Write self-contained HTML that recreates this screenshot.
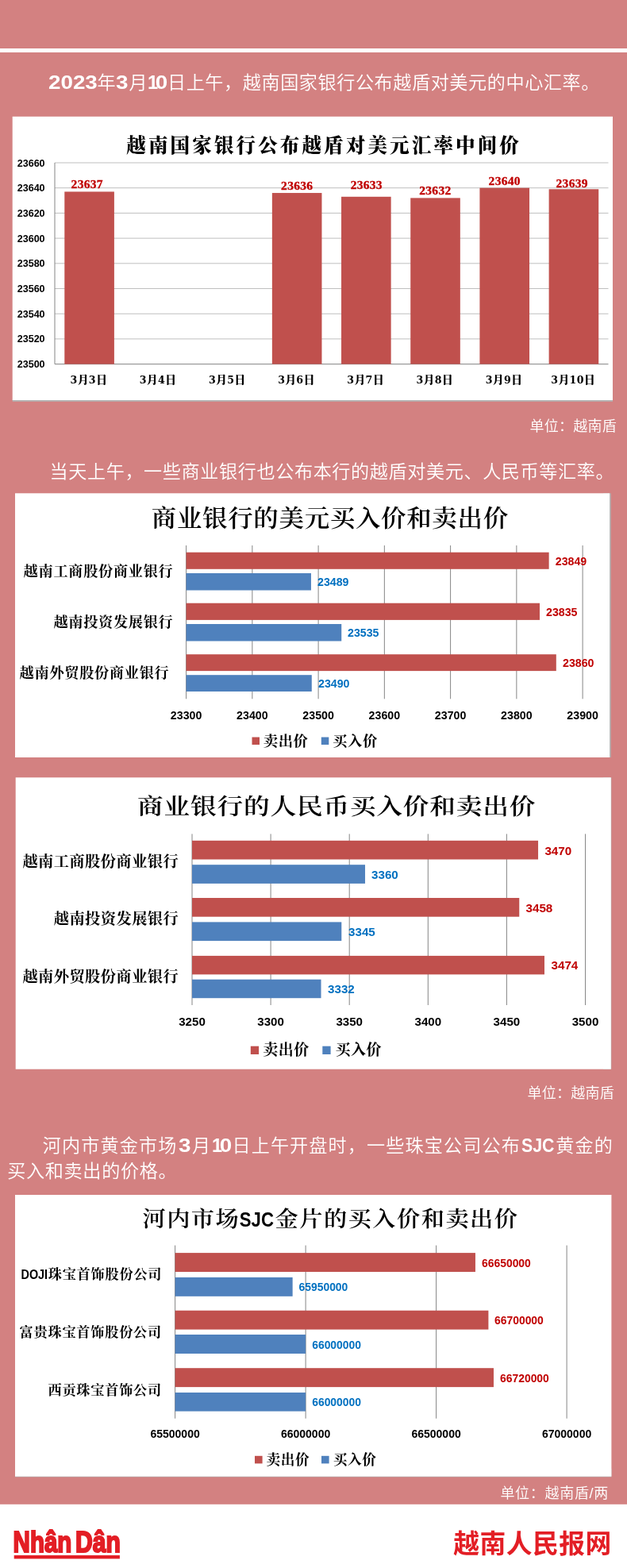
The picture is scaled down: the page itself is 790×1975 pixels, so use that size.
<!DOCTYPE html>
<html lang="zh-CN">
<head>
<meta charset="utf-8">
<title>越南国家银行公布越盾对美元汇率中间价</title>
<style>
html,body{margin:0;padding:0}
body{width:790px;height:1975px;position:relative;overflow:hidden;background:#d38181;font-family:"Liberation Sans","Noto Sans CJK SC",sans-serif}
.rule{position:absolute;left:0;top:61px;width:790px;height:5px;background:#fff}
p{margin:0;position:absolute;color:#fff;white-space:nowrap;font-weight:350;font-size:23.1px;line-height:32.5px;letter-spacing:.6px}
p b{display:inline-block;font-weight:700;font-size:24.8px;letter-spacing:0;transform:scaleX(1.12);transform-origin:0 50%;line-height:1}
p b.l{font-size:23.4px;transform:scaleX(.912)}
p b i{display:inline-block;font-style:normal;transform:scaleX(.85);transform-origin:0 50%;margin-right:-5.2px}
.unit{position:absolute;color:#fff;font-size:18px;line-height:22px;letter-spacing:.25px;white-space:nowrap;font-weight:350}
.chart{position:absolute;margin:0;overflow:hidden}
.chart svg{display:block}
text{font-family:"Liberation Sans","Noto Sans CJK SC",sans-serif}
.ttl{font-family:"Liberation Serif","Noto Serif CJK SC",serif;font-weight:600;fill:#000}
.t4{font-weight:600}
.ttl1{font-family:"Liberation Serif","Noto Serif CJK SC",serif;font-weight:900;fill:#000}
.cat{font-family:"Liberation Serif","Noto Serif CJK SC",serif;fill:#000}
.num{font-family:"Liberation Sans",sans-serif;font-weight:700}
.dl1{font-family:"Liberation Serif",serif;font-weight:700;fill:#c00000;stroke:#c00000;stroke-width:.35px}
.xl1{font-family:"Liberation Serif","Noto Serif CJK SC",serif;font-weight:900;fill:#000;letter-spacing:.1px}
.xd{font-family:"DejaVu Serif","Liberation Serif",serif;font-weight:700;font-size:12.6px;letter-spacing:.35px}
footer{position:absolute;left:0;top:1894px;width:790px;height:80px;background:#fff;border-top:1px solid #dc9a9a}
.logo{position:absolute;left:0;top:0}
.site{position:absolute;right:19.2px;top:27.7px;color:#e31e25;font-weight:700;font-size:32.8px;line-height:44px;letter-spacing:.45px;white-space:nowrap}
</style>
</head>
<body>
<div class="rule"></div>
<p style="left:61.2px;top:88px"><b style="width:61.2px">2023</b>年<b style="width:16.3px">3</b>月<b style="width:24.9px"><i>1</i>0</b>日上午，越南国家银行公布越盾对美元的中心汇率。</p>
<figure class="chart" style="left:15px;top:146px;width:759px;height:360px">
<svg width="759" height="360" viewBox="15 146 759 360">
<rect x="15.7" y="503" width="756.3" height="2.8" fill="#b3b3b3"/>
<rect x="15.7" y="146.8" width="756.3" height="357.2" fill="#fff"/>
<text class="ttl1" x="159.3" y="192.3" font-size="24.5" letter-spacing="3.15">越南国家银行公布越盾对美元汇率中间价</text>
<rect x="69" y="204.5" width="697.5" height="1" fill="#bfbfbf"/>
<text class="num" x="56.6" y="209.5" font-size="12.55" text-anchor="end">23660</text>
<rect x="69" y="236.2" width="697.5" height="1" fill="#bfbfbf"/>
<text class="num" x="56.6" y="241.2" font-size="12.55" text-anchor="end">23640</text>
<rect x="69" y="267.9" width="697.5" height="1" fill="#bfbfbf"/>
<text class="num" x="56.6" y="272.9" font-size="12.55" text-anchor="end">23620</text>
<rect x="69" y="299.6" width="697.5" height="1" fill="#bfbfbf"/>
<text class="num" x="56.6" y="304.6" font-size="12.55" text-anchor="end">23600</text>
<rect x="69" y="331.3" width="697.5" height="1" fill="#bfbfbf"/>
<text class="num" x="56.6" y="336.3" font-size="12.55" text-anchor="end">23580</text>
<rect x="69" y="363" width="697.5" height="1" fill="#bfbfbf"/>
<text class="num" x="56.6" y="368" font-size="12.55" text-anchor="end">23560</text>
<rect x="69" y="394.7" width="697.5" height="1" fill="#bfbfbf"/>
<text class="num" x="56.6" y="399.7" font-size="12.55" text-anchor="end">23540</text>
<rect x="69" y="426.4" width="697.5" height="1" fill="#bfbfbf"/>
<text class="num" x="56.6" y="431.4" font-size="12.55" text-anchor="end">23520</text>
<rect x="69" y="458.1" width="697.5" height="1" fill="#868686"/>
<text class="num" x="56.6" y="463.1" font-size="12.55" text-anchor="end">23500</text>
<rect x="68.5" y="205" width="1" height="253.6" fill="#868686"/>
<rect x="81.29" y="241.45" width="62.6" height="217.15" fill="#c0504d"/>
<text class="dl1" x="109.74" y="237.3" font-size="15.5" letter-spacing=".3" text-anchor="middle">23637</text>
<text class="xl1" x="111.79" y="483.2" font-size="14" text-anchor="middle"><tspan class="xd">3</tspan>月<tspan class="xd">3</tspan>日</text>
<text class="xl1" x="198.98" y="483.2" font-size="14" text-anchor="middle"><tspan class="xd">3</tspan>月<tspan class="xd">4</tspan>日</text>
<text class="xl1" x="286.17" y="483.2" font-size="14" text-anchor="middle"><tspan class="xd">3</tspan>月<tspan class="xd">5</tspan>日</text>
<rect x="342.86" y="243.04" width="62.6" height="215.56" fill="#c0504d"/>
<text class="dl1" x="374.21" y="239.1" font-size="15.5" letter-spacing=".3" text-anchor="middle">23636</text>
<text class="xl1" x="373.36" y="483.2" font-size="14" text-anchor="middle"><tspan class="xd">3</tspan>月<tspan class="xd">6</tspan>日</text>
<rect x="430.04" y="247.8" width="62.6" height="210.81" fill="#c0504d"/>
<text class="dl1" x="461.79" y="238.2" font-size="15.5" letter-spacing=".3" text-anchor="middle">23633</text>
<text class="xl1" x="460.54" y="483.2" font-size="14" text-anchor="middle"><tspan class="xd">3</tspan>月<tspan class="xd">7</tspan>日</text>
<rect x="517.23" y="249.38" width="62.6" height="209.22" fill="#c0504d"/>
<text class="dl1" x="548.38" y="244.9" font-size="15.5" letter-spacing=".3" text-anchor="middle">23632</text>
<text class="xl1" x="547.73" y="483.2" font-size="14" text-anchor="middle"><tspan class="xd">3</tspan>月<tspan class="xd">8</tspan>日</text>
<rect x="604.42" y="236.7" width="62.6" height="221.9" fill="#c0504d"/>
<text class="dl1" x="635.72" y="232.6" font-size="15.5" letter-spacing=".3" text-anchor="middle">23640</text>
<text class="xl1" x="634.92" y="483.2" font-size="14" text-anchor="middle"><tspan class="xd">3</tspan>月<tspan class="xd">9</tspan>日</text>
<rect x="691.61" y="238.28" width="62.6" height="220.32" fill="#c0504d"/>
<text class="dl1" x="720.66" y="236.2" font-size="15.5" letter-spacing=".3" text-anchor="middle">23639</text>
<text class="xl1" x="722.11" y="483.2" font-size="14" text-anchor="middle"><tspan class="xd">3</tspan>月<tspan class="xd">10</tspan>日</text>
</svg></figure>
<div class="unit" style="right:13px;top:526px">单位：越南盾</div>
<p style="left:62.5px;top:577.5px;letter-spacing:.63px">当天上午，一些商业银行也公布本行的越盾对美元、人民币等汇率。</p>
<figure class="chart" style="left:19px;top:621px;width:752px;height:335px">
<svg width="752" height="335" viewBox="19 621 752 335">
<rect x="760" y="621.3" width="9.7" height="332.7" fill="#b3b3b3"/>
<rect x="19" y="621.3" width="749.1" height="332.7" fill="#fff"/>
<text class="ttl" transform="translate(190.8 662.6) scale(1.05 1)" font-size="30" letter-spacing="0.62">商业银行的美元买入价和卖出价</text>
<rect x="234.1" y="687" width="1" height="193.3" fill="#868686"/>
<rect x="317.35" y="687" width="1" height="193.3" fill="#868686"/>
<rect x="400.6" y="687" width="1" height="193.3" fill="#868686"/>
<rect x="483.85" y="687" width="1" height="193.3" fill="#868686"/>
<rect x="567.1" y="687" width="1" height="193.3" fill="#868686"/>
<rect x="650.35" y="687" width="1" height="193.3" fill="#868686"/>
<rect x="733.6" y="687" width="1" height="193.3" fill="#868686"/>
<rect x="234.6" y="695.7" width="457.04" height="21.1" fill="#c0504d"/>
<text class="num" x="699.8" y="711.6" font-size="14.2" fill="#c00000">23849</text>
<rect x="234.6" y="722" width="157.34" height="21.5" fill="#4f81bd"/>
<text class="num" x="400" y="738" font-size="14.2" fill="#0070c0">23489</text>
<rect x="234.6" y="759.7" width="445.39" height="21.2" fill="#c0504d"/>
<text class="num" x="688" y="775.5" font-size="14.2" fill="#c00000">23835</text>
<rect x="234.6" y="786" width="195.64" height="21.5" fill="#4f81bd"/>
<text class="num" x="438" y="802" font-size="14.2" fill="#0070c0">23535</text>
<rect x="234.6" y="824.2" width="466.2" height="20.9" fill="#c0504d"/>
<text class="num" x="709" y="839.7" font-size="14.2" fill="#c00000">23860</text>
<rect x="234.6" y="850.2" width="158.17" height="20.8" fill="#4f81bd"/>
<text class="num" x="401" y="866" font-size="14.2" fill="#0070c0">23490</text>
<text class="cat" x="218.5" y="726" font-size="18.2" font-weight="700" letter-spacing="0.7" text-anchor="end">越南工商股份商业银行</text>
<text class="cat" x="218.5" y="789.8" font-size="18.2" font-weight="700" letter-spacing="0.7" text-anchor="end">越南投资发展银行</text>
<text class="cat" x="213.5" y="853.8" font-size="18.2" font-weight="700" letter-spacing="0.7" text-anchor="end">越南外贸股份商业银行</text>
<text class="num" x="234.6" y="906" font-size="14.2" text-anchor="middle">23300</text>
<text class="num" x="317.85" y="906" font-size="14.2" text-anchor="middle">23400</text>
<text class="num" x="401.1" y="906" font-size="14.2" text-anchor="middle">23500</text>
<text class="num" x="484.35" y="906" font-size="14.2" text-anchor="middle">23600</text>
<text class="num" x="567.6" y="906" font-size="14.2" text-anchor="middle">23700</text>
<text class="num" x="650.85" y="906" font-size="14.2" text-anchor="middle">23800</text>
<text class="num" x="734.1" y="906" font-size="14.2" text-anchor="middle">23900</text>
<rect x="317.5" y="928.5" width="9.5" height="9.5" fill="#c0504d"/>
<text class="cat" x="331.8" y="939.9" font-size="18.4" font-weight="700" letter-spacing="0.5">卖出价</text>
<rect x="404.8" y="928.5" width="9.5" height="9.5" fill="#4f81bd"/>
<text class="cat" x="419.1" y="939.9" font-size="18.4" font-weight="700" letter-spacing="0.5">买入价</text>
</svg></figure>
<figure class="chart" style="left:19px;top:979px;width:753px;height:370px">
<svg width="753" height="370" viewBox="19 979 753 370">
<rect x="760" y="979.3" width="10.3" height="367.4" fill="#b3b3b3"/>
<rect x="19.7" y="979.3" width="750.1" height="367.4" fill="#fff"/>
<text class="ttl t4" transform="translate(173 1025.5) scale(1.14 1)" font-size="28.7" letter-spacing="0.68">商业银行的人民币买入价和卖出价</text>
<rect x="241.5" y="1050.4" width="1" height="215.6" fill="#868686"/>
<rect x="340.6" y="1050.4" width="1" height="215.6" fill="#868686"/>
<rect x="439.7" y="1050.4" width="1" height="215.6" fill="#868686"/>
<rect x="538.8" y="1050.4" width="1" height="215.6" fill="#868686"/>
<rect x="637.9" y="1050.4" width="1" height="215.6" fill="#868686"/>
<rect x="737" y="1050.4" width="1" height="215.6" fill="#868686"/>
<rect x="242" y="1058.8" width="436.04" height="23.7" fill="#c0504d"/>
<text class="num" x="686.4" y="1077.2" font-size="15.2" fill="#c00000">3470</text>
<rect x="242" y="1089.2" width="218.02" height="23.7" fill="#4f81bd"/>
<text class="num" x="468" y="1107.2" font-size="15.2" fill="#0070c0">3360</text>
<rect x="242" y="1131" width="412.26" height="23.7" fill="#c0504d"/>
<text class="num" x="662.5" y="1149.2" font-size="15.2" fill="#c00000">3458</text>
<rect x="242" y="1161.4" width="188.29" height="23.7" fill="#4f81bd"/>
<text class="num" x="439" y="1179.2" font-size="15.2" fill="#0070c0">3345</text>
<rect x="242" y="1203.9" width="443.97" height="23.5" fill="#c0504d"/>
<text class="num" x="694.5" y="1221.2" font-size="15.2" fill="#c00000">3474</text>
<rect x="242" y="1233.7" width="162.52" height="23.5" fill="#4f81bd"/>
<text class="num" x="413" y="1251.2" font-size="15.2" fill="#0070c0">3332</text>
<text class="cat" x="225.2" y="1092.3" font-size="19.3" font-weight="700" letter-spacing="0.4" text-anchor="end">越南工商股份商业银行</text>
<text class="cat" x="225.2" y="1164.3" font-size="19.3" font-weight="700" letter-spacing="0.4" text-anchor="end">越南投资发展银行</text>
<text class="cat" x="225.2" y="1236.6" font-size="19.3" font-weight="700" letter-spacing="0.4" text-anchor="end">越南外贸股份商业银行</text>
<text class="num" x="242" y="1292.3" font-size="15.1" text-anchor="middle">3250</text>
<text class="num" x="341.1" y="1292.3" font-size="15.1" text-anchor="middle">3300</text>
<text class="num" x="440.2" y="1292.3" font-size="15.1" text-anchor="middle">3350</text>
<text class="num" x="539.3" y="1292.3" font-size="15.1" text-anchor="middle">3400</text>
<text class="num" x="638.4" y="1292.3" font-size="15.1" text-anchor="middle">3450</text>
<text class="num" x="737.5" y="1292.3" font-size="15.1" text-anchor="middle">3500</text>
<rect x="315.8" y="1317.7" width="10.3" height="10.3" fill="#c0504d"/>
<text class="cat" x="331.3" y="1328.8" font-size="19" font-weight="700" letter-spacing="0.5">卖出价</text>
<rect x="406.3" y="1317.7" width="10.3" height="10.3" fill="#4f81bd"/>
<text class="cat" x="422.4" y="1328.8" font-size="19" font-weight="700" letter-spacing="0.5">买入价</text>
</svg></figure>
<div class="unit" style="right:16px;top:1366.2px">单位：越南盾</div>
<p style="left:8.6px;top:1426.5px;letter-spacing:1.15px;text-indent:45.2px">河内市黄金市场<b style="width:16.9px;text-indent:0;margin-left:1.5px">3</b>月<b style="width:25px;text-indent:0;margin-left:1.25px"><i>1</i>0</b>日上午开盘时，一些珠宝公司公布<b class="l" style="width:43.4px;text-indent:0;margin-left:.8px">SJC</b>黄金的<br><span style="letter-spacing:.7px;margin-left:.6px">买入和卖出的价格。</span></p>
<figure class="chart" style="left:19px;top:1505px;width:754px;height:357px">
<svg width="754" height="357" viewBox="19 1505 754 357">
<rect x="19" y="1850" width="751.4" height="10.4" fill="#b3b3b3"/>
<rect x="19" y="1505" width="751.4" height="354.7" fill="#fff"/>
<text class="ttl t4" transform="translate(179.6 1545.2) scale(1.07 1)" font-size="27.3" letter-spacing="1.3">河内市场</text>
<text class="num" transform="translate(301.8 1545.2) scale(0.87 1)" font-size="25.5" letter-spacing="0">SJC</text>
<text class="ttl t4" transform="translate(346.5 1545.2) scale(1.07 1)" font-size="27.3" letter-spacing="1.4">金片的买入价和卖出价</text>
<rect x="220.1" y="1568.6" width="1" height="218.1" fill="#868686"/>
<rect x="384.6" y="1568.6" width="1" height="218.1" fill="#868686"/>
<rect x="549.1" y="1568.6" width="1" height="218.1" fill="#868686"/>
<rect x="713.6" y="1568.6" width="1" height="218.1" fill="#868686"/>
<rect x="220.6" y="1578.1" width="378.35" height="23.9" fill="#c0504d"/>
<text class="num" x="607" y="1596" font-size="13.9" fill="#c00000">66650000</text>
<rect x="220.6" y="1608.9" width="148.05" height="23.9" fill="#4f81bd"/>
<text class="num" x="376.5" y="1626" font-size="13.9" fill="#0070c0">65950000</text>
<rect x="220.6" y="1650.7" width="394.8" height="23.9" fill="#c0504d"/>
<text class="num" x="623" y="1668" font-size="13.9" fill="#c00000">66700000</text>
<rect x="220.6" y="1681" width="164.5" height="24" fill="#4f81bd"/>
<text class="num" x="393.2" y="1698.5" font-size="13.9" fill="#0070c0">66000000</text>
<rect x="220.6" y="1723.2" width="401.38" height="23.9" fill="#c0504d"/>
<text class="num" x="630" y="1741" font-size="13.9" fill="#c00000">66720000</text>
<rect x="220.6" y="1754" width="164.5" height="23.6" fill="#4f81bd"/>
<text class="num" x="393.2" y="1771" font-size="13.9" fill="#0070c0">66000000</text>
<text class="cat" x="204.3" y="1610.8" font-size="17.2" font-weight="700" letter-spacing="0.75" text-anchor="end">珠宝首饰股份公司</text>
<text class="num" transform="translate(26.5 1610.8) scale(0.9 1)" font-size="16">DOJI</text>
<text class="cat" x="204" y="1683.5" font-size="17.2" font-weight="700" letter-spacing="0.75" text-anchor="end">富贵珠宝首饰股份公司</text>
<text class="cat" x="204" y="1756.5" font-size="17.2" font-weight="700" letter-spacing="0.75" text-anchor="end">西贡珠宝首饰公司</text>
<text class="num" x="220.6" y="1810.7" font-size="14" text-anchor="middle">65500000</text>
<text class="num" x="385.1" y="1810.7" font-size="14" text-anchor="middle">66000000</text>
<text class="num" x="549.6" y="1810.7" font-size="14" text-anchor="middle">66500000</text>
<text class="num" x="714.1" y="1810.7" font-size="14" text-anchor="middle">67000000</text>
<rect x="321" y="1833.8" width="9.6" height="9.6" fill="#c0504d"/>
<text class="cat" x="335.6" y="1844.5" font-size="17.7" font-weight="700" letter-spacing="0.5">卖出价</text>
<rect x="405" y="1833.8" width="9.6" height="9.6" fill="#4f81bd"/>
<text class="cat" x="419.8" y="1844.5" font-size="17.7" font-weight="700" letter-spacing="0.5">买入价</text>
</svg></figure>
<div class="unit" style="right:23px;top:1870.2px;letter-spacing:.7px">单位：越南盾/两</div>
<footer>
<svg class="logo" width="200" height="80" viewBox="0 1895 200 80">
<g font-family="Liberation Sans, sans-serif" font-weight="700" font-size="37.6" fill="#e31e25" stroke="#e31e25" stroke-width="2.2" stroke-linejoin="miter">
<text transform="translate(16.6 1955) scale(.785 1)">Nhân</text>
<text transform="translate(95 1955) scale(.8 1)">Dân</text>
</g>
<rect x="17.7" y="1959" width="133.2" height="4.4" fill="#e31e25"/>
</svg>
<div class="site">越南人民报网</div>
</footer>
</body>
</html>
